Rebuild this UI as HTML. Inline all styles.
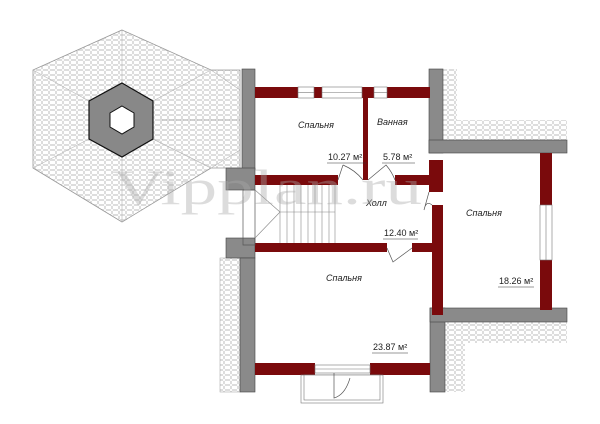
<!DOCTYPE html>
<html><head><meta charset="utf-8"><style>
html,body{margin:0;padding:0;background:#fff;}
svg{display:block}
text{font-family:"Liberation Sans",sans-serif;font-size:9px;fill:#222}
.it{font-style:italic}
</style></head><body>
<svg width="600" height="424" viewBox="0 0 600 424" xmlns="http://www.w3.org/2000/svg">
<defs>
<pattern id="tile" width="7" height="5" patternUnits="userSpaceOnUse">
<rect width="7" height="5" fill="#fff"/>
<rect x="0.5" y="0.5" width="6" height="4" rx="1.5" fill="none" stroke="#bbb" stroke-width="0.5"/>
</pattern>
</defs>
<polygon points="122,30 211,70 240,70 240,168 211,168 122,222 33,168 33,70" fill="url(#tile)" stroke="#999" stroke-width="0.8"/>
<g stroke="#bbb" stroke-width="0.7" fill="none">
<line x1="122" y1="30" x2="122" y2="83"/><line x1="122" y1="157" x2="122" y2="222"/>
<line x1="33" y1="70" x2="89" y2="101"/><line x1="33" y1="168" x2="89" y2="139"/>
<line x1="211" y1="70" x2="153" y2="101"/><line x1="211" y1="168" x2="153" y2="139"/>
<line x1="160" y1="120" x2="240" y2="120"/>
<line x1="211" y1="70" x2="240" y2="90"/><line x1="211" y1="168" x2="240" y2="150"/>
</g>
<polygon points="122,83 153,101 153,139 122,157 89,139 89,101" fill="#888" stroke="#111" stroke-width="1.2"/>
<polygon points="122,106 134,113 134,127 122,134 110,127 110,113" fill="#fff" stroke="#111" stroke-width="1"/>
<rect x="443" y="69" width="14" height="71" fill="url(#tile)"/>
<rect x="443" y="120" width="124" height="20" fill="url(#tile)"/>
<rect x="220" y="258" width="20" height="134" fill="url(#tile)" stroke="#999" stroke-width="0.5"/>
<rect x="445" y="322" width="122" height="21" fill="url(#tile)"/>
<rect x="445" y="322" width="20" height="70" fill="url(#tile)"/>
<g fill="#8a8a8a" stroke="#444" stroke-width="0.6">
<rect x="242" y="69" width="13" height="101"/>
<rect x="226" y="168" width="29" height="22"/>
<rect x="226" y="238" width="29" height="20"/>
<rect x="240" y="258" width="15" height="134"/>
<rect x="429" y="69" width="14" height="84"/>
<rect x="429" y="140" width="138" height="13"/>
<rect x="430" y="308" width="15" height="84"/>
<rect x="430" y="308" width="137" height="14"/>
</g>
<g fill="#7a0a0c">
<rect x="255" y="87" width="43" height="11"/>
<rect x="314" y="87" width="8" height="11"/>
<rect x="362" y="87" width="12" height="11"/>
<rect x="387" y="87" width="43" height="11"/>
<rect x="363" y="98" width="5" height="82"/>
<rect x="255" y="175" width="83" height="10"/>
<rect x="395" y="175" width="35" height="10"/>
<rect x="429" y="160" width="14" height="32"/>
<rect x="432" y="205" width="11" height="110"/>
<rect x="540" y="153" width="12" height="52"/>
<rect x="540" y="260" width="12" height="50"/>
<rect x="255" y="243" width="132" height="9"/>
<rect x="412" y="243" width="20" height="9"/>
<rect x="255" y="363" width="60" height="12"/>
<rect x="370" y="363" width="60" height="12"/>
</g>
<g fill="#fff" stroke="#777" stroke-width="0.6">
<rect x="298" y="87" width="16" height="11"/><line x1="298" y1="92.5" x2="314" y2="92.5"/>
<rect x="322" y="87" width="40" height="11"/><line x1="322" y1="92.5" x2="362" y2="92.5"/>
<rect x="374" y="87" width="13" height="11"/><line x1="374" y1="92.5" x2="387" y2="92.5"/>
<rect x="540" y="205" width="12" height="55"/><line x1="546" y1="205" x2="546" y2="260"/>
<rect x="315" y="365" width="55" height="8"/><line x1="315" y1="369" x2="370" y2="369"/>
<rect x="301" y="375" width="82" height="28"/><rect x="304" y="375" width="76" height="25"/>
</g>
<g fill="none" stroke="#555" stroke-width="0.7">
<path d="M338,180 L343,165 M343,165 Q355,170 363,180"/>
<path d="M368,180 L386,165 Q392,172 395,180"/>
<path d="M429,192 L424,210 Q426,200 432,205"/>
<path d="M387,248 L393,262 L412,248"/>
<path d="M334,373 L334,398 Q345,395 350,378"/>
<path d="M243,190 L243,245 L255,245 L255,190 Z"/>
</g>
<g stroke="#888" stroke-width="0.6">
<line x1="280" y1="212" x2="335" y2="212"/>
<line x1="255" y1="190" x2="280" y2="212"/><line x1="255" y1="238" x2="280" y2="212"/>
<line x1="280" y1="185" x2="280" y2="243"/><line x1="287" y1="185" x2="287" y2="243"/>
<line x1="294" y1="185" x2="294" y2="243"/><line x1="301" y1="185" x2="301" y2="243"/>
<line x1="308" y1="185" x2="308" y2="243"/><line x1="315" y1="185" x2="315" y2="243"/>
<line x1="322" y1="185" x2="322" y2="243"/><line x1="329" y1="185" x2="329" y2="243"/>
<line x1="335" y1="185" x2="335" y2="243"/>
</g>
<text class="it" x="298" y="128">Спальня</text>
<text class="it" x="377" y="125">Ванная</text>
<text class="it" x="366" y="206">Холл</text>
<text class="it" x="466" y="216">Спальня</text>
<text class="it" x="326" y="281">Спальня</text>
<text x="328" y="160">10.27 м²</text>
<text x="383" y="160">5.78 м²</text>
<text x="384" y="236">12.40 м²</text>
<text x="499" y="284">18.26 м²</text>
<text x="373" y="350">23.87 м²</text>
<g stroke="#333" stroke-width="0.6">
<line x1="327" y1="163" x2="366" y2="163"/><line x1="382" y1="163" x2="415" y2="163"/>
<line x1="383" y1="239" x2="418" y2="239"/><line x1="498" y1="287" x2="534" y2="287"/>
<line x1="372" y1="353" x2="408" y2="353"/>
</g>
<text x="112" y="204" textLength="310" lengthAdjust="spacingAndGlyphs" style="font-family:'Liberation Serif',serif;font-size:50px;fill:#aaa;opacity:0.4">Vipplan.ru</text>
</svg>
</body></html>
